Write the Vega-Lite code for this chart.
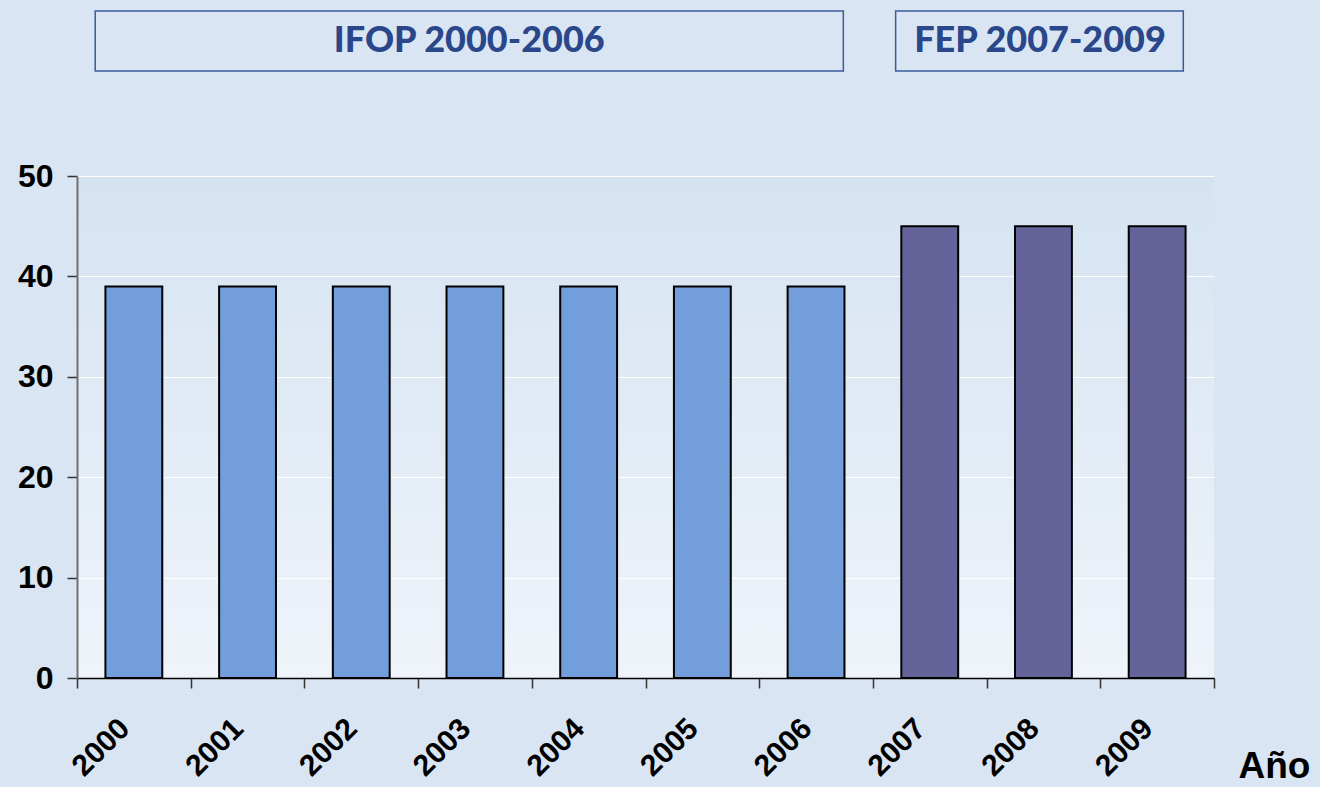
{
  "$schema": "https://vega.github.io/schema/vega-lite/v6.json",
  "width": 1137,
  "height": 502,
  "autosize": {"type": "none"},
  "padding": {"left": 77, "top": 176, "right": 106, "bottom": 109},
  "background": "#d9e5f2",
  "config": {
    "view": {
      "stroke": null,
      "fill": {"gradient": "linear", "x1": 0, "y1": 0, "x2": 0, "y2": 1, "stops": [{"offset": 0, "color": "#d5e3f1"}, {"offset": 1, "color": "#eff4fa"}]}
    }
  },
  "layer": [
    {
      "data": {
        "values": [
          {"year": "2000", "value": 39, "programa": "IFOP"},
          {"year": "2001", "value": 39, "programa": "IFOP"},
          {"year": "2002", "value": 39, "programa": "IFOP"},
          {"year": "2003", "value": 39, "programa": "IFOP"},
          {"year": "2004", "value": 39, "programa": "IFOP"},
          {"year": "2005", "value": 39, "programa": "IFOP"},
          {"year": "2006", "value": 39, "programa": "IFOP"},
          {"year": "2007", "value": 45, "programa": "FEP"},
          {"year": "2008", "value": 45, "programa": "FEP"},
          {"year": "2009", "value": 45, "programa": "FEP"}
        ]
      },
      "mark": {"type": "bar", "stroke": "#000000", "strokeWidth": 2, "opacity": 1, "width": {"band": 0.5}},
      "encoding": {
        "x": {
          "field": "year",
          "type": "ordinal",
          "scale": {"paddingInner": 0, "paddingOuter": 0},
          "axis": {
            "tickBand": "extent",
            "domainColor": "#000000",
            "domainWidth": 1.5,
            "tickColor": "#333333",
            "tickWidth": 1.5,
            "tickSize": 10,
            "labelAngle": -45,
            "labelAlign": "right",
            "labelBaseline": "top",
            "labelPadding": 25,
            "labelOffset": -20,
            "labelFont": "Liberation Sans",
            "labelFontWeight": "bold",
            "labelFontSize": 30,
            "labelColor": "#000000",
            "grid": false,
            "title": "Año",
            "titleFont": "Liberation Sans",
            "titleFontWeight": "bold",
            "titleFontSize": 37,
            "titleColor": "#000000",
            "titleAlign": "left",
            "titleBaseline": "alphabetic",
            "titleX": 1161,
            "titleY": 99
          }
        },
        "y": {
          "field": "value",
          "type": "quantitative",
          "scale": {"domain": [0, 50]},
          "axis": {
            "values": [0, 10, 20, 30, 40, 50],
            "grid": true,
            "gridColor": "#ffffff",
            "gridWidth": 1.2,
            "domainColor": "#707070",
            "domainWidth": 2,
            "tickColor": "#333333",
            "tickWidth": 1.5,
            "tickSize": 10,
            "labelFont": "Liberation Sans",
            "labelFontWeight": "bold",
            "labelFontSize": 32,
            "labelColor": "#000000",
            "labelPadding": 14,
            "title": null
          }
        },
        "color": {
          "field": "programa",
          "type": "nominal",
          "scale": {"domain": ["IFOP", "FEP"], "range": ["#729fdc", "#65649a"]},
          "legend": null
        }
      }
    },
    {
      "data": {
        "values": [
          {"label": "IFOP 2000-2006", "start": 1999.66, "end": 2006.24, "center": 2002.95, "low": 60.46, "high": 66.43, "mid": 63.45},
          {"label": "FEP 2007-2009", "start": 2006.70, "end": 2009.23, "center": 2007.97, "low": 60.46, "high": 66.43, "mid": 63.45}
        ]
      },
      "layer": [
        {
          "mark": {"type": "rect", "fill": null, "fillOpacity": 0, "stroke": "#3a5a9a", "strokeWidth": 1.5},
          "encoding": {
            "x": {"field": "start", "type": "quantitative", "scale": {"domain": [1999.5, 2009.5], "nice": false, "zero": false}, "axis": null},
            "x2": {"field": "end"},
            "y": {"field": "low", "type": "quantitative"},
            "y2": {"field": "high"}
          }
        },
        {
          "mark": {"type": "text", "font": "Lato", "fontWeight": 900, "fontSize": 36, "color": "#29478a", "align": "center", "baseline": "middle"},
          "encoding": {
            "x": {"field": "center", "type": "quantitative", "scale": {"domain": [1999.5, 2009.5], "nice": false, "zero": false}, "axis": null},
            "y": {"field": "mid", "type": "quantitative"},
            "text": {"field": "label"}
          }
        }
      ]
    }
  ],
  "resolve": {"scale": {"x": "independent", "color": "independent"}}
}
